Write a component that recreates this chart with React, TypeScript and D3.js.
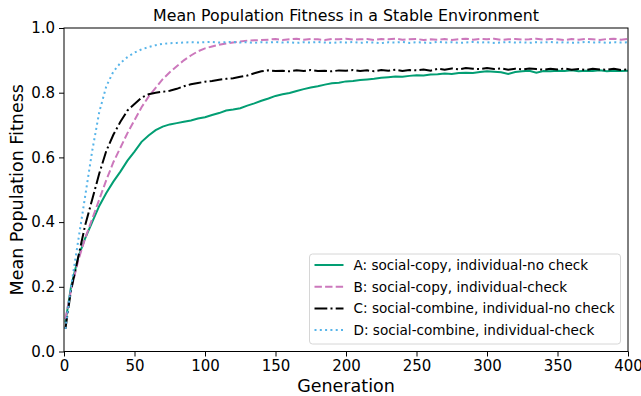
import React, { useEffect, useRef } from 'react';
import * as d3 from 'd3';

const generations = [
  1, 5, 10, 15, 20, 25, 30, 35, 40, 45,
  50, 55, 60, 65, 70, 75, 80, 85, 90, 95,
  100, 105, 110, 115, 120, 125, 130, 135, 140, 145,
  150, 155, 160, 165, 170, 175, 180, 185, 190, 195,
  200, 205, 210, 215, 220, 225, 230, 235, 240, 245,
  250, 255, 260, 265, 270, 275, 280, 285, 290, 295,
  300, 305, 310, 315, 320, 325, 330, 335, 340, 345,
  350, 355, 360, 365, 370, 375, 380, 385, 390, 395, 400,
];

const seriesA = [
  0.09, 0.2, 0.29, 0.35, 0.4, 0.45, 0.49, 0.525, 0.556, 0.59,
  0.618, 0.648, 0.668, 0.684, 0.695, 0.702, 0.706, 0.71, 0.714, 0.72,
  0.724, 0.731, 0.737, 0.745, 0.748, 0.752, 0.76, 0.767, 0.775, 0.782,
  0.79, 0.795, 0.799, 0.805, 0.811, 0.816, 0.82, 0.825, 0.829, 0.831,
  0.835, 0.836, 0.839, 0.841, 0.843, 0.846, 0.848, 0.85, 0.849, 0.852,
  0.854, 0.853, 0.856, 0.857, 0.859, 0.858, 0.861, 0.862, 0.861, 0.864,
  0.866, 0.865, 0.863, 0.858, 0.864, 0.866, 0.868, 0.862, 0.867, 0.866,
  0.868, 0.867, 0.869, 0.866, 0.868, 0.867, 0.869, 0.866, 0.868, 0.867, 0.868,
];

const seriesB = [
  0.1, 0.19, 0.28, 0.35, 0.41, 0.47, 0.53, 0.585, 0.63, 0.675,
  0.715, 0.755, 0.788, 0.815, 0.842, 0.863, 0.882, 0.9, 0.915, 0.928,
  0.937, 0.943, 0.948, 0.952, 0.955, 0.958, 0.961, 0.962, 0.963, 0.964,
  0.966, 0.963, 0.965, 0.967, 0.964, 0.966, 0.965, 0.963, 0.966, 0.965,
  0.967, 0.964, 0.965, 0.966, 0.963, 0.966, 0.965, 0.967, 0.964, 0.965,
  0.966, 0.963, 0.965, 0.964, 0.966, 0.963, 0.965, 0.967, 0.964, 0.966,
  0.965, 0.967, 0.963, 0.965, 0.966, 0.964, 0.965, 0.967, 0.964, 0.966,
  0.965, 0.963, 0.966, 0.964, 0.966, 0.965, 0.963, 0.966, 0.967, 0.964, 0.966,
];

const seriesC = [
  0.07, 0.19, 0.29, 0.39, 0.47, 0.55, 0.62, 0.67, 0.71, 0.745,
  0.765, 0.785, 0.795, 0.8, 0.803, 0.806, 0.812, 0.82, 0.826, 0.83,
  0.834, 0.836, 0.84, 0.843, 0.845, 0.849, 0.853, 0.86, 0.866, 0.869,
  0.867, 0.868, 0.866, 0.869, 0.867, 0.87, 0.867, 0.868, 0.866, 0.869,
  0.868, 0.87, 0.867, 0.869, 0.866, 0.87, 0.868, 0.871, 0.867, 0.87,
  0.869, 0.872, 0.868, 0.874, 0.871, 0.875, 0.872, 0.876, 0.874, 0.873,
  0.876, 0.873, 0.875, 0.871, 0.874, 0.872, 0.875, 0.873, 0.871, 0.874,
  0.872, 0.875, 0.871, 0.873, 0.87, 0.874, 0.872, 0.871, 0.874, 0.87, 0.872,
];

const seriesD = [
  0.07, 0.2, 0.34, 0.48, 0.62, 0.74, 0.82, 0.865, 0.892, 0.91,
  0.924, 0.934, 0.941, 0.947, 0.951, 0.953, 0.954, 0.955, 0.956, 0.955,
  0.956, 0.957, 0.955, 0.956, 0.957, 0.955, 0.956, 0.954, 0.956, 0.955,
  0.957, 0.955, 0.956, 0.954, 0.956, 0.955, 0.957, 0.955, 0.954, 0.956,
  0.955, 0.957, 0.954, 0.956, 0.955, 0.953, 0.956, 0.955, 0.957, 0.954,
  0.956, 0.955, 0.954, 0.957, 0.955, 0.956, 0.954, 0.955, 0.957, 0.955,
  0.956, 0.954, 0.955, 0.957, 0.955, 0.956, 0.954, 0.956, 0.955, 0.957,
  0.955, 0.956, 0.954, 0.955, 0.957, 0.955, 0.956, 0.954, 0.956, 0.955, 0.956,
];

const seriesLabels = [
  'A: social-copy, individual-no check',
  'B: social-copy, individual-check',
  'C: social-combine, individual-no check',
  'D: social-combine, individual-check',
];

const xTicks = [0, 50, 100, 150, 200, 250, 300, 350, 400];
const yTicks = [0, 0.2, 0.4, 0.6, 0.8, 1.0];

const FONT = 'DejaVu Sans, sans-serif';

export default function App() {
  const svgRef = useRef<SVGSVGElement>(null);
  const width = 641;
  const height = 396;

  useEffect(() => {
    if (!svgRef.current) return;
    const svg = d3.select(svgRef.current);
    svg.selectAll('*').remove();

    const margin = { top: 28, right: 13, bottom: 44.5, left: 64 };
    const innerWidth = width - margin.left - margin.right;
    const innerHeight = height - margin.top - margin.bottom;

    const g = svg.append('g').attr('transform', `translate(${margin.left},${margin.top})`);

    const x = d3.scaleLinear().domain([0, 400]).range([0, innerWidth]);
    const y = d3.scaleLinear().domain([0, 1]).range([innerHeight, 0]);

    const series = [
      { values: seriesA, color: '#029e73', dash: null },
      { values: seriesB, color: '#cc78bc', dash: '7.4,3.2' },
      { values: seriesC, color: '#000000', dash: '12.8,3.2,2,3.2' },
      { values: seriesD, color: '#56b4e9', dash: '2,3.3' },
    ];

    const line = d3
      .line<number>()
      .x((_, i) => x(generations[i]))
      .y(d => y(d));

    series.forEach(s => {
      g.append('path')
        .datum(s.values)
        .attr('fill', 'none')
        .attr('stroke', s.color)
        .attr('stroke-width', 2)
        .attr('stroke-dasharray', s.dash)
        .attr('d', line);
    });

    // Axes
    const xAxis = g
      .append('g')
      .attr('transform', `translate(0,${innerHeight})`)
      .call(d3.axisBottom(x).tickValues(xTicks).tickSize(5).tickPadding(4).tickFormat(d3.format('d')));
    const yAxis = g
      .append('g')
      .call(d3.axisLeft(y).tickValues(yTicks).tickSize(5).tickPadding(4).tickFormat(d3.format('.1f')));

    [xAxis, yAxis].forEach(ax => {
      ax.select('.domain').remove();
      ax.selectAll('line').attr('stroke', '#000').attr('stroke-width', 1);
      ax.selectAll('text').attr('fill', '#000').attr('font-size', 15).attr('font-family', FONT);
    });

    // Frame
    g.append('rect')
      .attr('width', innerWidth)
      .attr('height', innerHeight)
      .attr('fill', 'none')
      .attr('stroke', '#000')
      .attr('stroke-width', 1);

    // Labels
    svg.append('text')
      .attr('x', margin.left + innerWidth / 2)
      .attr('y', 21)
      .attr('text-anchor', 'middle')
      .attr('font-family', FONT)
      .attr('font-size', 15.8)
      .text('Mean Population Fitness in a Stable Environment');

    svg.append('text')
      .attr('x', margin.left + innerWidth / 2)
      .attr('y', 391.5)
      .attr('text-anchor', 'middle')
      .attr('font-family', FONT)
      .attr('font-size', 17.5)
      .text('Generation');

    svg.append('text')
      .attr('transform', `translate(23,${margin.top + innerHeight / 2}) rotate(-90)`)
      .attr('text-anchor', 'middle')
      .attr('font-family', FONT)
      .attr('font-size', 17.5)
      .text('Mean Population Fitness');

    // Legend
    const legend = svg.append('g').attr('transform', 'translate(309.5,254)');
    legend
      .append('rect')
      .attr('width', 311)
      .attr('height', 90)
      .attr('rx', 3)
      .attr('fill', 'rgba(255,255,255,0.8)')
      .attr('stroke', '#d6d6d6')
      .attr('stroke-width', 1);

    series.forEach((s, i) => {
      const row = legend.append('g').attr('transform', `translate(0,${11 + i * 21.7})`);
      row.append('line')
        .attr('x1', 5)
        .attr('x2', 34)
        .attr('stroke', s.color)
        .attr('stroke-width', 2)
        .attr('stroke-dasharray', s.dash);
      row.append('text')
        .attr('x', 44)
        .attr('y', 5)
        .attr('font-family', FONT)
        .attr('font-size', 13.6)
        .attr('fill', '#000')
        .text(seriesLabels[i]);
    });
  }, []);

  return (
    <svg
      ref={svgRef}
      width={width}
      height={height}
      style={{ position: 'absolute', left: 0, top: 0, background: '#fff' }}
    />
  );
}
